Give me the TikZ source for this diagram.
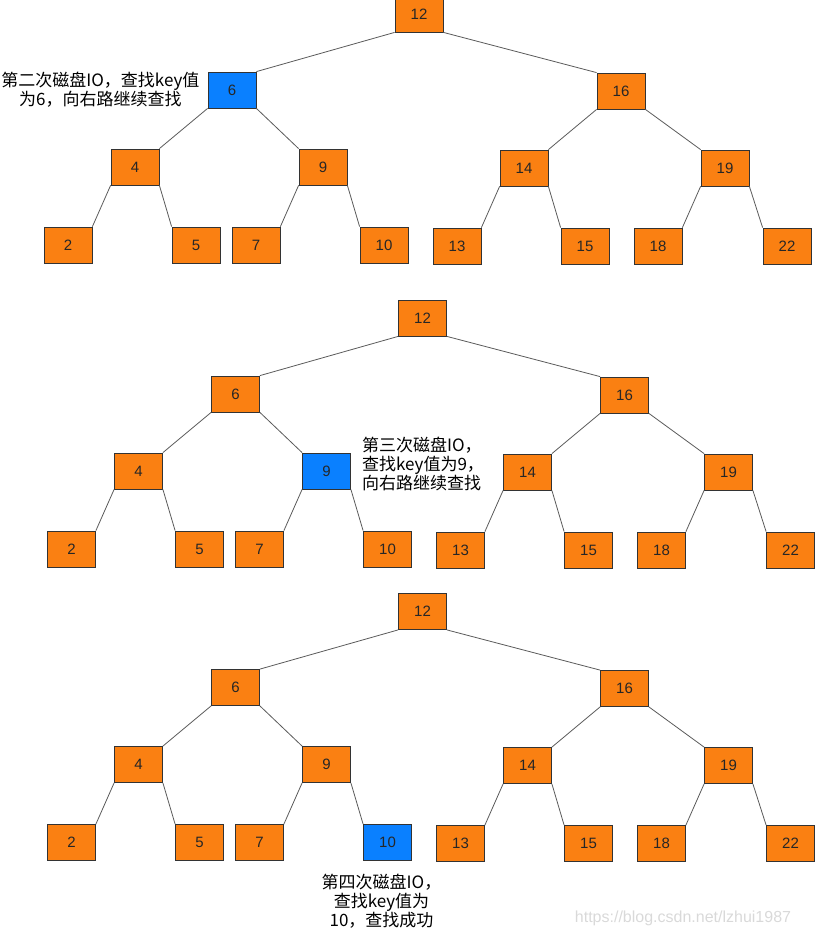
\documentclass[tikz,border=0pt]{standalone}
\usepackage{fontspec}
\setmainfont{Liberation Sans}
\newfontfamily\cjk{Noto Sans CJK SC}
\usetikzlibrary{positioning}
\definecolor{keyorange}{RGB}{250,128,18}
\definecolor{hitblue}{RGB}{10,128,255}
\definecolor{edgegray}{RGB}{90,90,90}

\begin{document}
\begin{tikzpicture}[x=1pt,y=-1pt,
  keybox/.style={draw=black!80,fill=keyorange,minimum width=48pt,minimum height=36pt,inner sep=0pt,line width=0.8pt,font=\fontsize{15}{18}\selectfont,text=black!85},
  hitbox/.style={fill=hitblue},
  edge/.style={draw=edgegray,line width=0.8pt},
  note/.style={font=\cjk\fontsize{17}{19}\selectfont,inner sep=0pt}]

  \useasboundingbox (0,0) rectangle (828,932);
  \clip (0,0) rectangle (828,932);

  % three copies of the same tree, one per disk IO
  \foreach \t/\dx/\dy/\hl in {a/0/0/6, b/3.5/304/9, c/3.5/597.5/10}{
    \begin{scope}[shift={(\dx,\dy)}]
      \foreach \k/\x/\y in {12/419/14, 6/232/90, 16/621/91, 4/135/167, 9/323/167,
                            14/524/168, 19/725/168, 2/68/245, 5/196/245, 7/256/245,
                            10/384/245, 13/457/246, 15/585/246, 18/658/246, 22/787/246}{
        \ifnum\k=\hl
          \node[keybox,hitbox] (\t\k) at (\x,\y) {\k};
        \else
          \node[keybox] (\t\k) at (\x,\y) {\k};
        \fi
      }
      % left children
      \foreach \p/\c in {12/6, 6/4, 16/14, 4/2, 9/7, 14/13, 19/18}
        \draw[edge] (\t\p.south west) -- (\t\c.north east);
      % right children
      \foreach \p/\c in {12/16, 6/9, 16/19, 4/5, 9/10, 14/15, 19/22}
        \draw[edge] (\t\p.south east) -- (\t\c.north west);
    \end{scope}
  }

  \node[note,align=center,left=8pt of a6] (io2) {第二次磁盘IO，查找key值\\为6，向右路继续查找};
  \node[note,align=left,right=11pt of b9,yshift=7pt] (io3) {第三次磁盘IO，\\查找key值为9，\\向右路继续查找};
  \node[note,align=center,below=13pt of c10,xshift=-6pt] (io4) {第四次磁盘IO，\\查找key值为\\10，查找成功};

  \node[font=\fontsize{16}{18}\selectfont,text=black!15] (wmark) at (683,918) {https://blog.csdn.net/lzhui1987};
\end{tikzpicture}
\end{document}
